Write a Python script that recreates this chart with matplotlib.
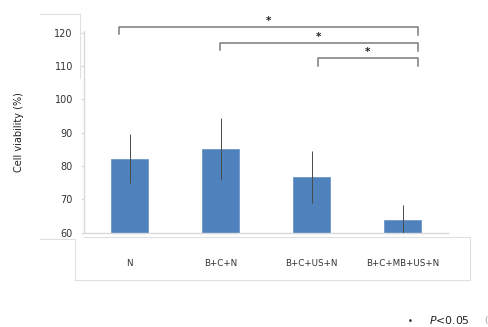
import matplotlib
matplotlib.use("Agg")
import matplotlib.pyplot as plt
from matplotlib.lines import Line2D

groups = ["N", "B+C+N", "B+C+US+N", "B+C+MB+US+N"]
viability = [82.2, 85.1, 76.8, 63.9]
sd = [7.3, 9.4, 7.8, 4.5]
yticks = [60, 70, 80, 90, 100, 110, 120]
comparisons = [(0, 3), (1, 3), (2, 3)]
sig_label = "*"

W, H = 488, 327
fig = plt.figure(figsize=(W / 100, H / 100), dpi=100)
fig.patch.set_facecolor("white")

def fx(px):
    return px / W

def fy(py):
    return 1 - py / H

ax = fig.add_axes([fx(84), fy(232.7), fx(448) - fx(84), fy(31) - fy(232.7)])
x = list(range(len(groups)))
ax.bar(x, viability, width=0.4, bottom=0, color="#4f81bd", edgecolor="#6f97c9",
       linewidth=0.6, zorder=2)
ax.errorbar(x, viability, yerr=sd, fmt="none", ecolor="#4a4a4a", elinewidth=0.7,
            capsize=0, zorder=3, clip_on=True)
ax.set_xlim(-0.5, 3.5)
ax.set_ylim(60, 120.5)
ax.set_yticks(yticks)
ax.set_xticks(x)
ax.set_xticklabels(groups, fontsize=6.3, color="#333333")
ax.tick_params(axis="x", length=0, pad=19)
ax.tick_params(axis="y", length=2, color="#d9d9d9", labelsize=7, labelcolor="#333333", pad=6)
for s in ["top", "right"]:
    ax.spines[s].set_visible(False)
for s in ["left", "bottom"]:
    ax.spines[s].set_color("#d9d9d9")
    ax.spines[s].set_linewidth(1.0)
ax.set_ylabel("Cell viability (%)", fontsize=7, color="#222222", labelpad=22)

# significance brackets
left_off = {0: -0.11, 1: -0.01, 2: 0.07}
levels = [121.7, 116.9, 112.3]
for (i, j), yb in zip(comparisons, levels):
    x0 = i + left_off[i]
    x1 = j + 0.17
    ax.plot([x0, x0, x1, x1], [yb - 2.2, yb, yb, yb - 2.4], color="#7a7a7a",
            lw=1.1, clip_on=False, zorder=4)
    ax.text((x0 + x1) / 2, yb + 0.4, sig_label, ha="center", va="bottom",
            fontsize=7.5, fontweight="bold", color="#222222", clip_on=False)

# surrounding frame lines
frame = "#e0e0e0"
segs = [
    ([40, 80], [14, 14]), ([80, 80], [14, 78]),
    ([40, 75], [239, 239]), ([75, 75], [239, 280]),
    ([75, 470], [280, 280]), ([470, 470], [237, 280]),
    ([84, 470], [237, 237]),
]
for xs, ys in segs:
    fig.add_artist(Line2D([fx(v) for v in xs], [fy(v) for v in ys],
                          color=frame, lw=0.8))

# footnote
fig.text(fx(410), fy(321), "•", ha="center", va="center", fontsize=6, color="#222222")
fig.text(fx(429), fy(320), "$P$<0.05", ha="left", va="center", fontsize=7.8,
         color="#222222")
fig.text(fx(484), fy(320), "(", ha="left", va="center", fontsize=6.5, color="#999999")

fig.savefig("out.png", dpi=100, facecolor="white")
